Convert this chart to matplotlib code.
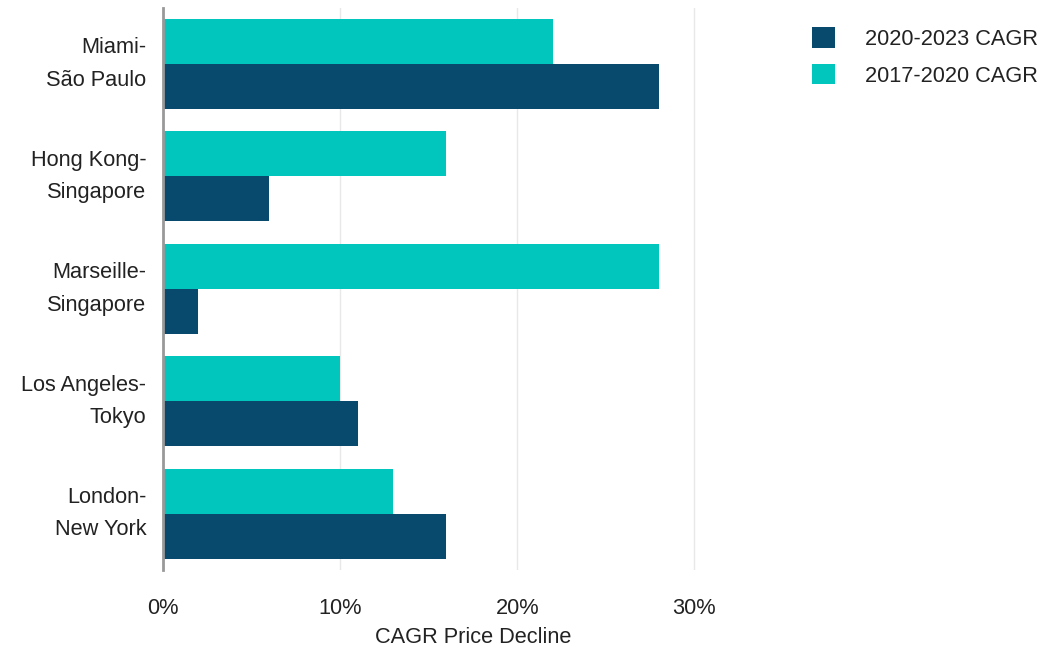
import matplotlib.pyplot as plt
import numpy as np
from matplotlib.ticker import FuncFormatter

plt.rcParams['font.family'] = ['Liberation Sans', 'DejaVu Sans']

routes = ['Miami-\nSão Paulo', 'Hong Kong-\nSingapore', 'Marseille-\nSingapore',
          'Los Angeles-\nTokyo', 'London-\nNew York']
cagr_2017_2020 = [22, 16, 28, 10, 13]
cagr_2020_2023 = [28, 6, 2, 11, 16]

dark = '#074a6d'
teal = '#00c6bd'
fs = 15.7

fig = plt.figure(figsize=(10.56, 6.5), dpi=100)
ax = fig.add_axes([0.1544, 0.123, 0.587, 0.865])

y = np.arange(len(routes))
h = 0.4
ax.barh(y - h / 2, cagr_2017_2020, height=h, color=teal, label='2017-2020 CAGR')
ax.barh(y + h / 2, cagr_2020_2023, height=h, color=dark, label='2020-2023 CAGR')

ax.set_ylim(len(routes) - 0.5, -0.5)
ax.set_xlim(0, 35)
ax.set_yticks(y)
ax.set_yticklabels(routes, fontsize=fs, color='#222222', linespacing=1.7, va='center')
ax.set_xticks([0, 10, 20, 30])
ax.xaxis.set_major_formatter(FuncFormatter(lambda v, p: f'{v:.0f}%'))
ax.tick_params(axis='x', labelsize=fs, colors='#222222', length=0, pad=20)
ax.tick_params(axis='y', length=0, pad=12)
ax.set_xlabel('CAGR Price Decline', fontsize=fs, color='#222222', labelpad=6)

ax.grid(axis='x', color='#e8e8e8', linewidth=1)
ax.set_axisbelow(True)
for s in ['top', 'right', 'bottom']:
    ax.spines[s].set_visible(False)
ax.spines['left'].set_color('#999999')
ax.spines['left'].set_linewidth(2)

handles, labels = ax.get_legend_handles_labels()
fig.legend(handles[::-1], labels[::-1], loc='upper left', bbox_to_anchor=(0.75, 0.988),
           frameon=False, fontsize=fs, handlelength=1.05, handleheight=1.05,
           handletextpad=1.4, labelspacing=0.65, labelcolor='#222222')

fig.savefig('out.png', dpi=100)
